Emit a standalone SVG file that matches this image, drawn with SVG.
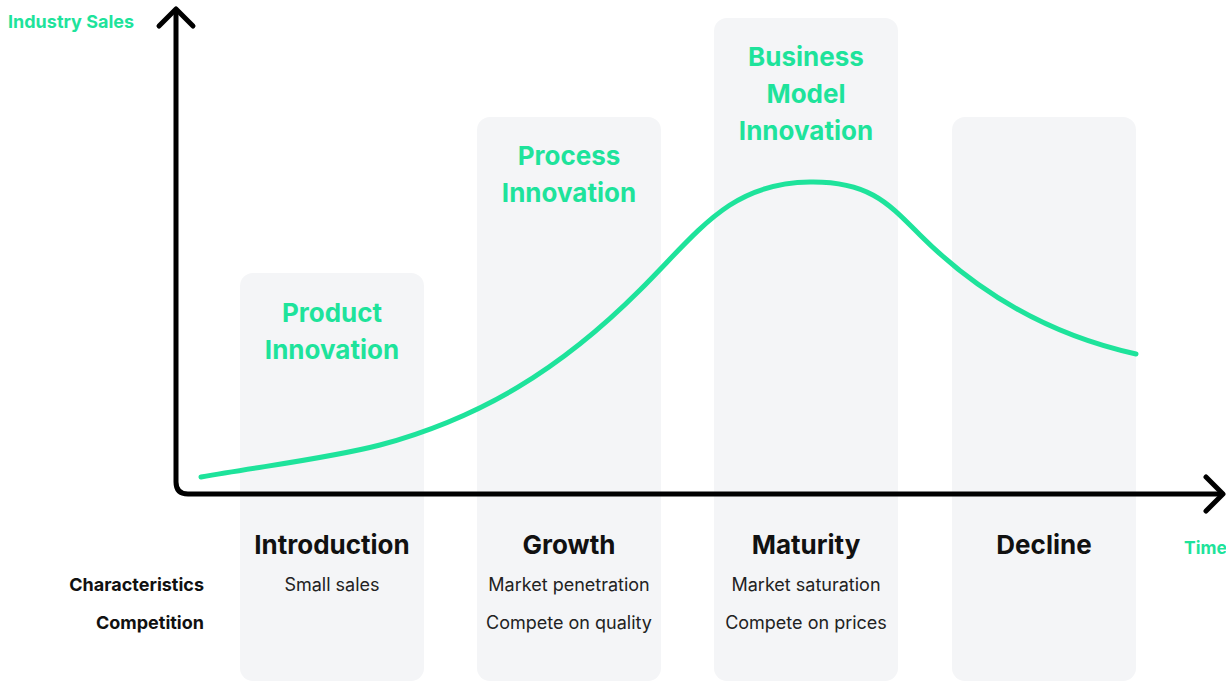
<svg xmlns="http://www.w3.org/2000/svg" width="1226" height="682" viewBox="0 0 1226 682">
  <style>
    .col { fill: #f4f5f7; }
    .green { fill: #1ee39b; font-family: "Inter", "Liberation Sans", sans-serif; font-weight: 700; }
    .stage { fill: #111; font-family: "Inter", "Liberation Sans", sans-serif; font-weight: 700; font-size: 26px; text-anchor: middle; }
    .rowlabel { fill: #111; font-family: "Inter", "Liberation Sans", sans-serif; font-weight: 700; font-size: 18px; text-anchor: end; }
    .val { fill: #222; font-family: "Inter", "Liberation Sans", sans-serif; font-size: 18px; text-anchor: middle; }
    .axis { fill: none; stroke: #000; stroke-width: 5; stroke-linecap: round; stroke-linejoin: round; }
    .curve { fill: none; stroke: #1ee39b; stroke-width: 5; stroke-linecap: round; }
  </style>

  <rect width="1226" height="682" fill="#fff"/>

  <!-- stage columns -->
  <g id="introduction">
    <rect class="col" x="240" y="273" width="184" height="408" rx="13"/>
    <text class="green" font-size="26" text-anchor="middle" x="332" y="322">Product</text>
    <text class="green" font-size="26" text-anchor="middle" x="332" y="359">Innovation</text>
    <text class="stage" x="332" y="554">Introduction</text>
    <text class="val" x="332" y="591">Small sales</text>
  </g>
  <g id="growth">
    <rect class="col" x="477" y="117" width="184" height="564" rx="13"/>
    <text class="green" font-size="26" text-anchor="middle" x="569" y="165">Process</text>
    <text class="green" font-size="26" text-anchor="middle" x="569" y="202">Innovation</text>
    <text class="stage" x="569" y="554">Growth</text>
    <text class="val" x="569" y="591">Market penetration</text>
    <text class="val" x="569" y="629">Compete on quality</text>
  </g>
  <g id="maturity">
    <rect class="col" x="714" y="18" width="184" height="663" rx="13"/>
    <text class="green" font-size="26" text-anchor="middle" x="806" y="66">Business</text>
    <text class="green" font-size="26" text-anchor="middle" x="806" y="103">Model</text>
    <text class="green" font-size="26" text-anchor="middle" x="806" y="140">Innovation</text>
    <text class="stage" x="806" y="554">Maturity</text>
    <text class="val" x="806" y="591">Market saturation</text>
    <text class="val" x="806" y="629">Compete on prices</text>
  </g>
  <g id="decline">
    <rect class="col" x="952" y="117" width="184" height="564" rx="13"/>
    <text class="stage" x="1044" y="554">Decline</text>
  </g>

  <!-- row labels -->
  <g id="row-labels">
    <text class="rowlabel" x="204" y="591">Characteristics</text>
    <text class="rowlabel" x="204" y="629">Competition</text>
  </g>

  <!-- axes and sales curve -->
  <g id="connectors">
    <path class="axis" d="M176,10 V482 Q176,494 188,494 H1222"/>
    <path class="axis" d="M159,26 L176,9 L193,26"/>
    <path class="axis" d="M1206,477 L1223,494 L1206,511"/>
    <path class="curve" d="M201,477 C270,465 330,458 380,445 C480,418 560,370 640,290 C700,230 730,183 810,182 C870,181 890,205 920,235 C980,295 1050,335 1136,354"/>
  </g>

  <g id="axis-labels">
    <text class="green" font-size="18" x="8" y="28">Industry Sales</text>
    <text class="green" font-size="17.5" x="1184" y="554">Time</text>
  </g>
</svg>
